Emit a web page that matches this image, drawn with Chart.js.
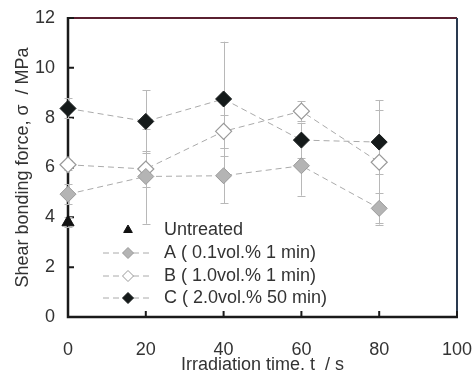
<!DOCTYPE html>
<html><head><meta charset="utf-8">
<script src="https://cdn.jsdelivr.net/npm/chart.js@4/dist/chart.umd.min.js"></script>
<style>html,body{margin:0;padding:0;background:#fff}#wrap{width:474px;height:370px}</style>
</head><body><div id="wrap"><canvas id="c" width="474" height="370"></canvas></div>
<script>
const times = [0, 20, 40, 60, 80];
const untreatedTime = [0];
const untreated = [3.8];
const untreatedErr = [0.2];
const seriesA = [4.93, 5.64, 5.67, 6.07, 4.36];
const errA = [0.4, 1.9, 1.1, 1.2, 0.6];
const seriesB = [6.11, 5.94, 7.45, 8.26, 6.21];
const errB = [0.2, 0.74, 0.67, 0.41, 2.5];
const seriesC = [8.37, 7.85, 8.75, 7.1, 7.02];
const errC = [0.4, 1.25, 2.3, 0.7, 1.3];
const legendLabels = ['Untreated', 'A ( 0.1vol.% 1 min)', 'B ( 1.0vol.% 1 min)', 'C ( 2.0vol.% 50 min)'];
const xTicks = [0, 20, 40, 60, 80, 100];
const yTicks = [0, 2, 4, 6, 8, 10, 12];

const FONT = "'Liberation Sans', Arial, sans-serif";
const pts = (xs, ys) => xs.map((x, i) => ({x: x, y: ys[i]}));

const datasets = [
  {label: legendLabels[0], data: pts(untreatedTime, untreated), err: untreatedErr, showLine: false, clip: false,
   pointStyle: 'triangle', pointRadius: 7, backgroundColor: '#111', borderColor: '#111', borderWidth: 1},
  {label: legendLabels[1], data: pts(times, seriesA), err: errA, showLine: true, borderDash: [6, 4], clip: false,
   borderColor: '#aaa', borderWidth: 1, pointStyle: 'rectRot', pointRadius: 8,
   pointBackgroundColor: '#b4b4b4', pointBorderColor: '#999', pointBorderWidth: 1},
  {label: legendLabels[2], data: pts(times, seriesB), err: errB, showLine: true, borderDash: [6, 4], clip: false,
   borderColor: '#aaa', borderWidth: 1, pointStyle: 'rectRot', pointRadius: 8,
   pointBackgroundColor: '#fff', pointBorderColor: '#999', pointBorderWidth: 1.2},
  {label: legendLabels[3], data: pts(times, seriesC), err: errC, showLine: true, borderDash: [6, 4], clip: false,
   borderColor: '#aaa', borderWidth: 1, pointStyle: 'rectRot', pointRadius: 8,
   pointBackgroundColor: '#151a1a', pointBorderColor: '#151a1a', pointBorderWidth: 1}
];

const extras = {
  id: 'extras',
  beforeDatasetsDraw(chart) {
    const ctx = chart.ctx, a = chart.chartArea, xs = chart.scales.x, ys = chart.scales.y;
    ctx.save();
    ctx.lineWidth = 2;
    ctx.strokeStyle = '#5a2030';
    ctx.beginPath(); ctx.moveTo(a.left, a.top); ctx.lineTo(a.right, a.top); ctx.stroke();
    ctx.strokeStyle = '#2a3a50';
    ctx.beginPath(); ctx.moveTo(a.right, a.top); ctx.lineTo(a.right, a.bottom); ctx.stroke();
    ctx.strokeStyle = '#1a1a1a';
    ctx.lineWidth = 2.5;
    ctx.beginPath(); ctx.moveTo(a.left, a.top - 1); ctx.lineTo(a.left, a.bottom); ctx.lineTo(a.right + 1, a.bottom); ctx.stroke();
    ctx.lineWidth = 2;
    ctx.beginPath();
    yTicks.forEach(v => { const py = ys.getPixelForValue(v); ctx.moveTo(a.left, py); ctx.lineTo(a.left + 6, py); });
    xTicks.forEach(v => { const px = xs.getPixelForValue(v); ctx.moveTo(px, a.bottom); ctx.lineTo(px, a.bottom - 6); });
    ctx.stroke();
    ctx.strokeStyle = '#b8b8b8';
    ctx.lineWidth = 1;
    chart.data.datasets.forEach(ds => {
      ds.data.forEach((p, i) => {
        const e = ds.err[i];
        const px = Math.round(xs.getPixelForValue(p.x)) + 0.5;
        const y1 = ys.getPixelForValue(p.y + e), y2 = ys.getPixelForValue(p.y - e);
        ctx.beginPath();
        ctx.moveTo(px, y1); ctx.lineTo(px, y2);
        ctx.moveTo(px - 4, Math.round(y1) + 0.5); ctx.lineTo(px + 4, Math.round(y1) + 0.5);
        ctx.moveTo(px - 4, Math.round(y2) + 0.5); ctx.lineTo(px + 4, Math.round(y2) + 0.5);
        ctx.stroke();
      });
    });
    ctx.restore();
  },
  afterDraw(chart) {
    const ctx = chart.ctx;
    ctx.save();
    const rows = [230, 253, 276, 298];
    chart.data.datasets.forEach((ds, i) => {
      const y = rows[i];
      if (ds.showLine) {
        ctx.save();
        ctx.strokeStyle = '#aaa'; ctx.lineWidth = 1; ctx.setLineDash([6, 4]);
        ctx.beginPath(); ctx.moveTo(103, y); ctx.lineTo(152, y); ctx.stroke();
        ctx.restore();
      }
      const isTri = ds.pointStyle === 'triangle';
      ctx.fillStyle = isTri ? ds.backgroundColor : ds.pointBackgroundColor;
      ctx.strokeStyle = isTri ? ds.borderColor : ds.pointBorderColor;
      ctx.lineWidth = 1;
      Chart.helpers.drawPoint(ctx, {pointStyle: ds.pointStyle, radius: isTri ? 5 : 5.5, borderWidth: 1, rotation: 0}, 128, y);
      ctx.fillStyle = '#333';
      ctx.font = '18px ' + FONT;
      ctx.textBaseline = 'middle';
      ctx.textAlign = 'left';
      ctx.fillText(ds.label, 164, y);
    });
    ctx.restore();
  }
};

const zeroPad = s => { s.paddingLeft = 0; s.paddingRight = 0; s.paddingTop = 0; s.paddingBottom = 0; };

new Chart(document.getElementById('c'), {
  type: 'scatter',
  data: {datasets},
  options: {
    responsive: false,
    animation: false,
    layout: {padding: {left: 0, right: 17, top: 18, bottom: 0}},
    plugins: {legend: {display: false}, tooltip: {enabled: false}},
    scales: {
      x: {
        type: 'linear', min: 0, max: 100,
        afterBuildTicks: s => { s.ticks = xTicks.map(v => ({value: v})); },
        afterFit: s => { s.height = 53; zeroPad(s); },
        grid: {display: false, drawTicks: false},
        border: {display: false},
        ticks: {color: '#333', font: {family: FONT, size: 18}, padding: 22, maxRotation: 0},
        title: {display: true, text: 'Irradiation time, t  / s', color: '#333', font: {family: FONT, size: 18}, padding: {top: 0, bottom: -6}}
      },
      y: {
        type: 'linear', min: 0, max: 12,
        afterBuildTicks: s => { s.ticks = yTicks.map(v => ({value: v})); },
        afterFit: s => { s.width = 68; zeroPad(s); },
        grid: {display: false, drawTicks: false},
        border: {display: false},
        ticks: {color: '#333', font: {family: FONT, size: 18}, padding: 13},
        title: {display: true, text: 'Shear bonding force, σ  / MPa', color: '#333', font: {family: FONT, size: 18}, padding: {top: 12, bottom: 0}}
      }
    }
  },
  plugins: [extras]
});
</script>
</body></html>
